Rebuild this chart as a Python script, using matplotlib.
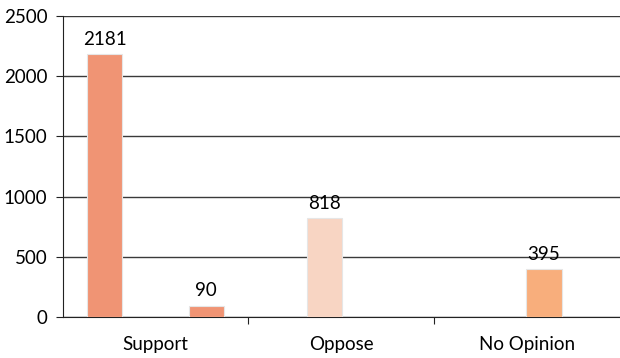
import numpy as np
import matplotlib.pyplot as plt

plt.rcParams['font.family'] = ['Lato', 'DejaVu Sans']

# categories and series
categories = ["Support", "Oppose", "No Opinion"]
series_names = ["Support", "Oppose", "No Opinion", "Other"]
support = [2181, 0, 0]
oppose = [0, 818, 0]
no_opinion = [0, 0, 395]
other = [90, 0, 0]
yticks = [0, 500, 1000, 1500, 2000, 2500]

series = [support, oppose, no_opinion, other]
colors = ["#F09474", "#F8D5C3", "#F8AE7C", "#F09474"]

fig = plt.figure(figsize=(6.2, 3.58), dpi=100)
ax = fig.add_axes([0.101, 0.115, 0.899, 0.84])

x = np.arange(len(categories))
w = 0.19
step = 0.182
for k, (vals, col) in enumerate(zip(series, colors)):
    off = (k - 1.5) * step
    for xi, v in zip(x, vals):
        if v == 0:
            continue
        ax.bar(xi + off, v, w, color=col, edgecolor="#e6e6e6", linewidth=0.8, zorder=3)
        ax.text(xi + off, v + 55, str(v), ha="center", va="bottom", fontsize=13.5)

ax.set_xlim(-0.5, 2.5)
ax.set_ylim(0, 2500)
ax.set_yticks(yticks)
ax.set_yticklabels([str(t) for t in yticks], fontsize=13.5)
ax.yaxis.grid(True, color="#3a3a3a", linewidth=1.0, zorder=0)
ax.set_axisbelow(True)

ax.set_xticks([0.5, 1.5])
ax.set_xticklabels([])
ax.set_xticks(x, minor=True)
ax.set_xticklabels(categories, minor=True, fontsize=13.5)
ax.tick_params(axis="x", which="minor", length=0, pad=14)
ax.tick_params(axis="x", which="major", length=5, color="#222222")
ax.tick_params(axis="y", length=5, color="#222222", pad=6)

for s in ["top", "right"]:
    ax.spines[s].set_visible(False)
ax.spines["left"].set_color("#222222")
ax.spines["bottom"].set_color("#222222")

plt.savefig("out.png", dpi=100)
